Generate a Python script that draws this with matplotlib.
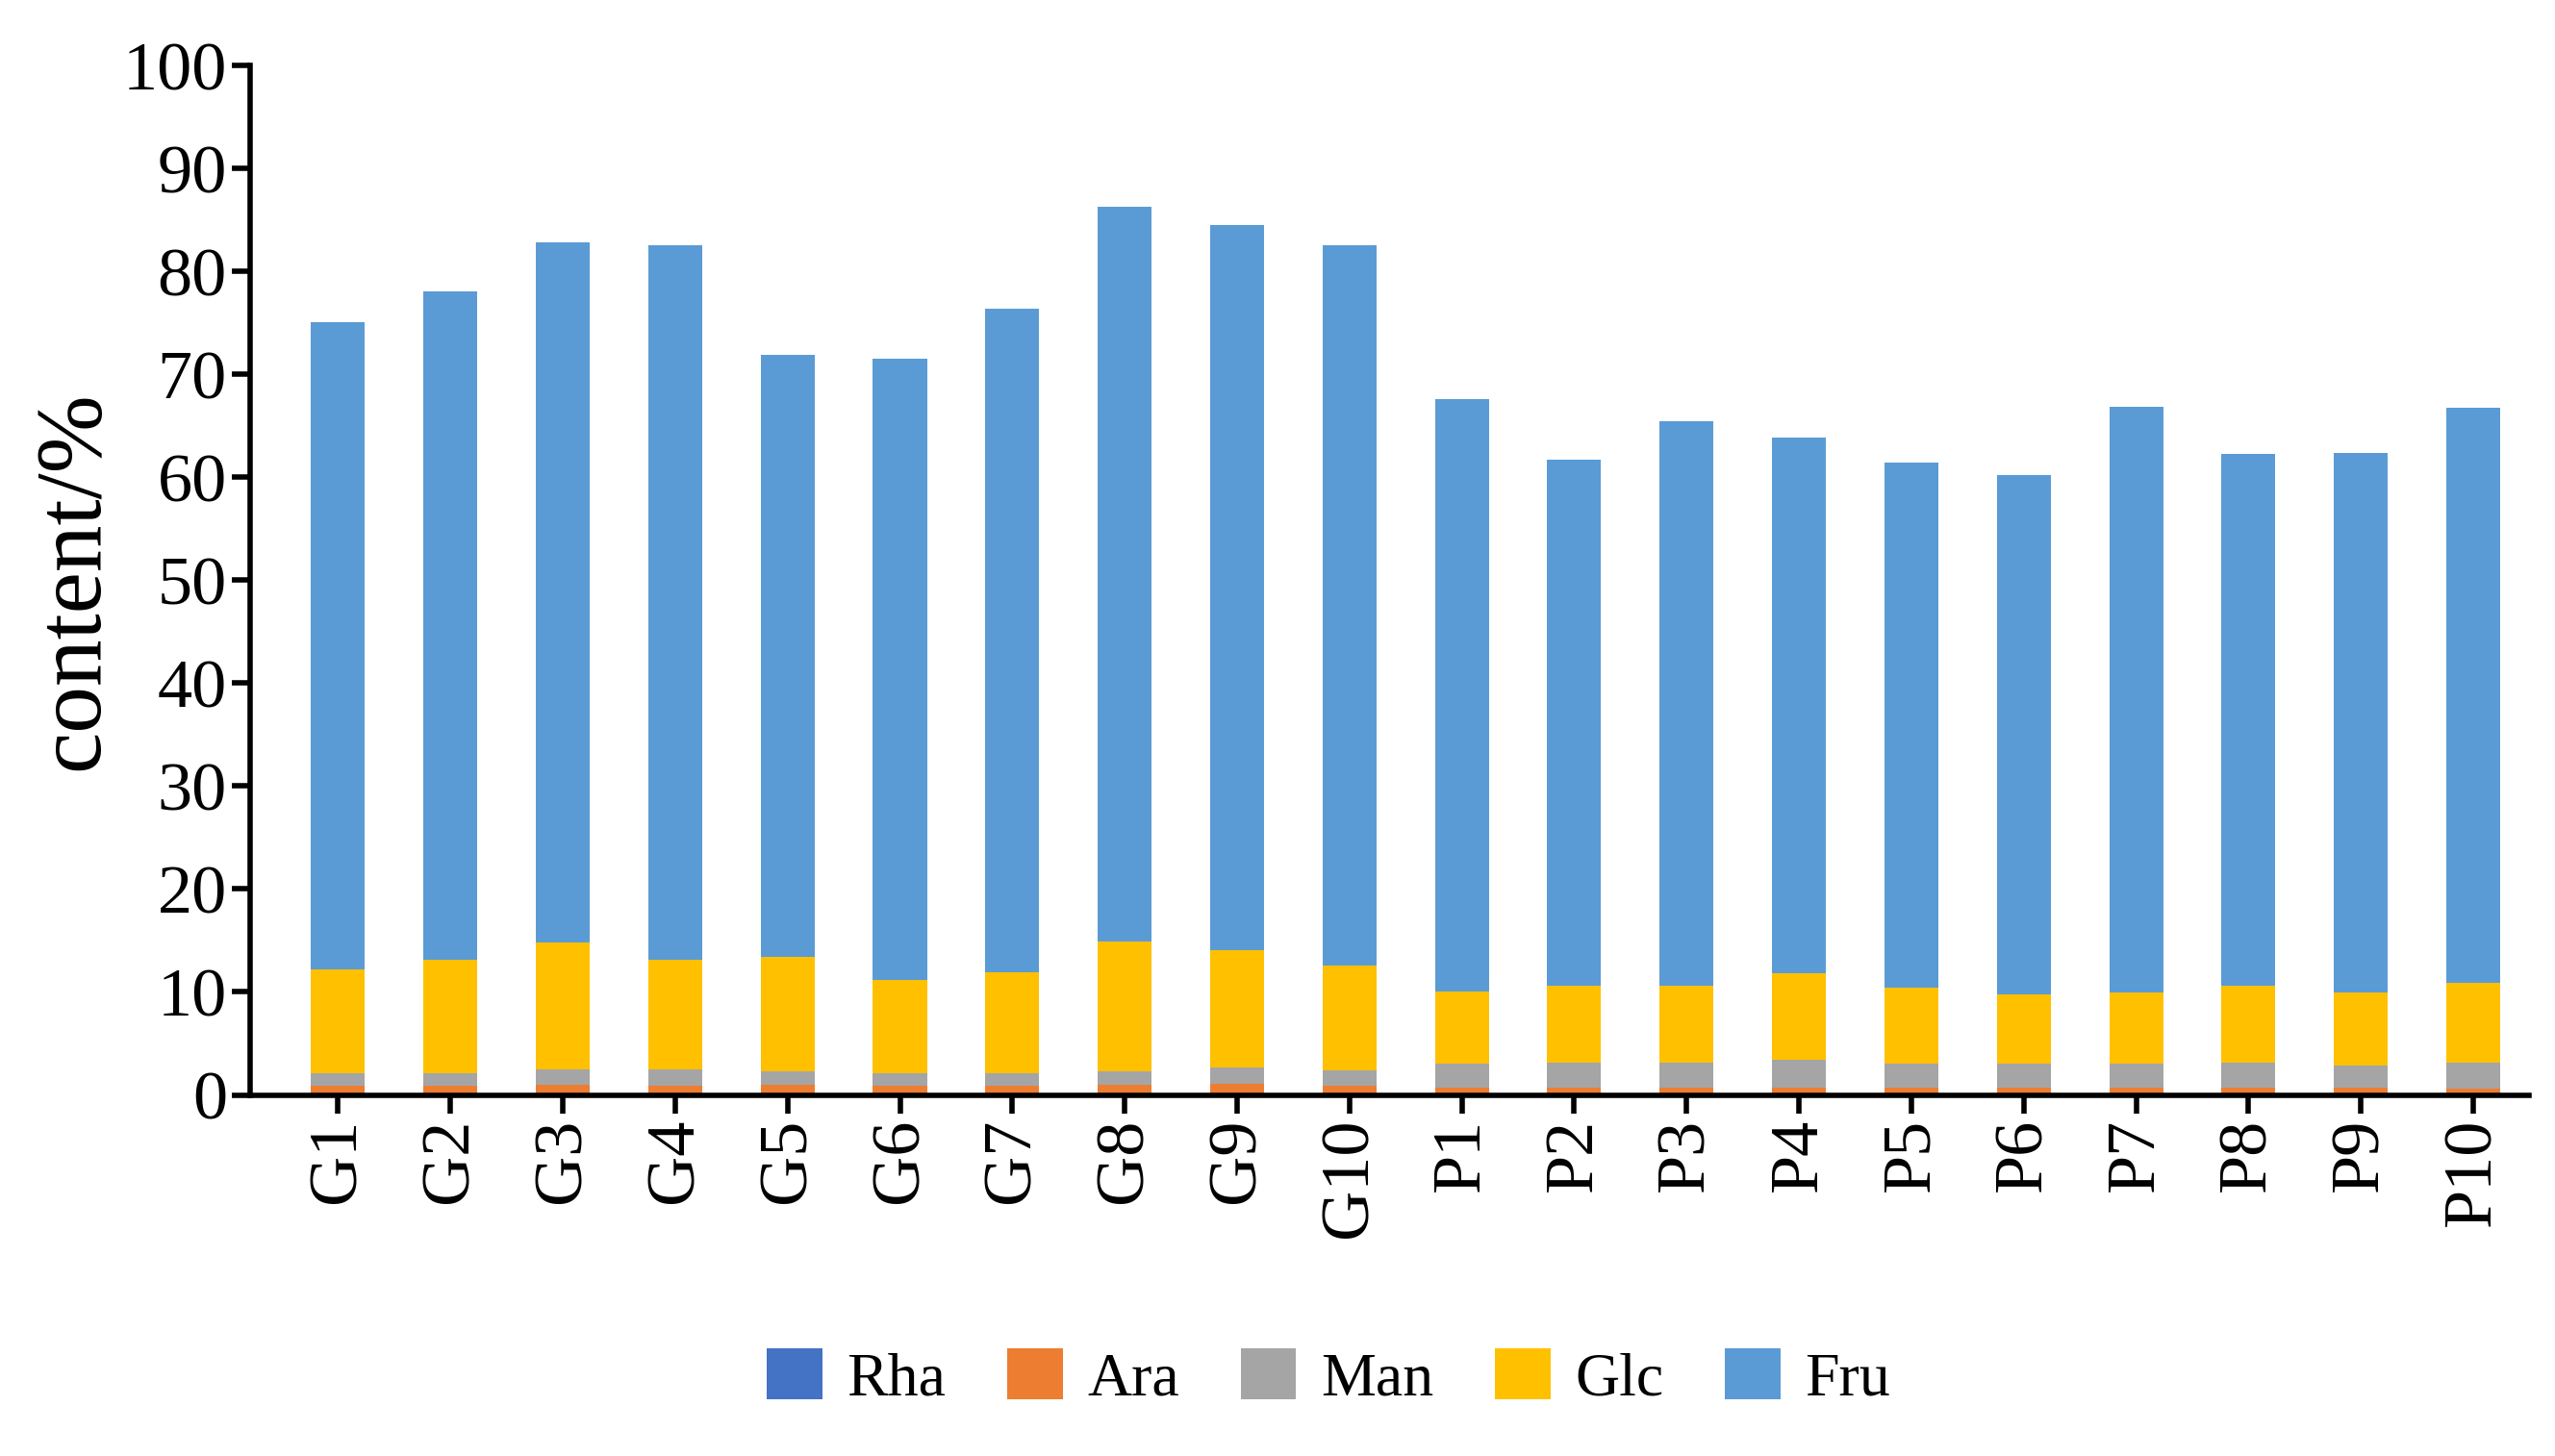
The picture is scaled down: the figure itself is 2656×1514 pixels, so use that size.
import numpy as np
import matplotlib.pyplot as plt

plt.rcParams['font.family'] = ['Liberation Serif', 'DejaVu Serif']

samples = ['G1', 'G2', 'G3', 'G4', 'G5', 'G6', 'G7', 'G8', 'G9', 'G10',
           'P1', 'P2', 'P3', 'P4', 'P5', 'P6', 'P7', 'P8', 'P9', 'P10']
rha = [0.05] * 20
ara = [0.8, 0.8, 0.9, 0.8, 0.9, 0.8, 0.8, 0.9, 1.0, 0.8,
       0.7, 0.7, 0.7, 0.7, 0.7, 0.7, 0.7, 0.7, 0.7, 0.6]
man = [1.3, 1.3, 1.5, 1.6, 1.3, 1.3, 1.3, 1.3, 1.6, 1.5,
       2.3, 2.4, 2.4, 2.7, 2.3, 2.3, 2.3, 2.4, 2.1, 2.5]
glc = [10.0, 11.0, 12.4, 10.7, 11.2, 9.0, 9.8, 12.7, 11.4, 10.2,
       7.0, 7.5, 7.5, 8.4, 7.4, 6.7, 6.9, 7.5, 7.1, 7.7]
fru = [62.9, 64.9, 68.0, 69.4, 58.4, 60.4, 64.4, 71.3, 70.5, 70.0,
       57.5, 51.1, 54.8, 52.0, 51.0, 50.5, 56.9, 51.6, 52.4, 55.9]

names = ['Rha', 'Ara', 'Man', 'Glc', 'Fru']
colors = ['#4472C4', '#ED7D31', '#A5A5A5', '#FFC000', '#5B9BD5']

fig = plt.figure(figsize=(26.56, 15.14), dpi=100)
ax = fig.add_axes([0.098, 0.248, 0.892, 0.707])
x = np.arange(len(samples))
bottom = np.zeros(len(samples))
for name, vals, c in zip(names, [rha, ara, man, glc, fru], colors):
    ax.bar(x, vals, 0.48, bottom=bottom, color=c, label=name)
    bottom += np.array(vals)

ax.set_xlim(-0.78, 19.5)
ax.set_ylim(0, 100)
ax.set_yticks(range(0, 101, 10))
ax.set_xticks(x)
ax.set_xticklabels(samples, rotation=90)
ax.tick_params(labelsize=52, width=4, length=14, direction='out')
for s in ['top', 'right']:
    ax.spines[s].set_visible(False)
for s in ['left', 'bottom']:
    ax.spines[s].set_linewidth(4)
ax.set_ylabel('content/%', fontsize=70, labelpad=4)
fig.legend(loc='lower center', ncol=5, bbox_to_anchor=(0.52, -0.005), frameon=False,
           fontsize=46, handlelength=0.9, handleheight=0.9, columnspacing=1.0, handletextpad=0.4)
fig.savefig('out.png')
